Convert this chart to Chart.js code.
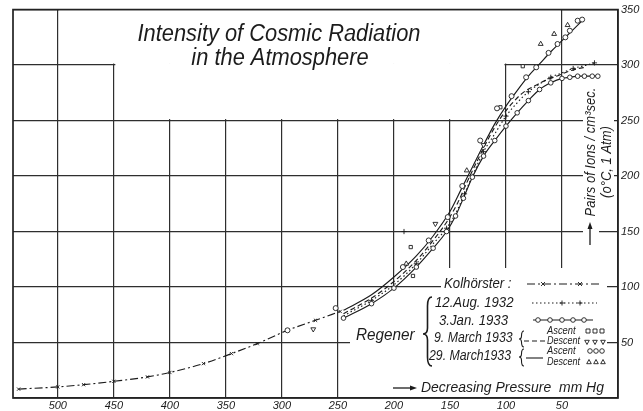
<!DOCTYPE html>
<html>
<head>
<meta charset="utf-8">
<script src="https://cdn.jsdelivr.net/npm/chart.js@4.4.0/dist/chart.umd.min.js"></script>
<style>
  html, body { margin: 0; padding: 0; background: #fff; }
  #wrap { width: 643px; height: 411px; }
</style>
</head>
<body>
<div id="wrap"><canvas id="grafico" width="643" height="411"></canvas></div>
<script>
// pressure in mm Hg (x) against pairs of ions per cm3 sec (y)
const kolX = [535, 500, 477, 450, 420, 400, 370, 345, 322, 295, 270, 248];
const kolY = [8, 10, 12, 15, 19, 23, 31, 40, 49, 61, 70, 78];

const augX = [245, 220, 200, 180, 165, 153, 145, 137, 130, 120, 110, 100, 90, 80, 70, 60, 50, 40, 28, 21];
const augY = [74, 88, 102, 121, 139, 153, 166, 184, 200, 222, 238, 254, 266, 276, 283, 289, 293, 297, 300, 302];

const janX = [245, 220, 200, 180, 165, 153, 145, 138, 130, 120, 110, 100, 90, 80, 70, 60, 50, 43, 36, 30, 23, 18];
const janY = [72, 85, 99, 118, 135, 150, 164, 180, 199, 218, 232, 245, 257, 268, 278, 284, 288, 289, 290, 290, 290, 290];

const mar9X = [245, 220, 200, 180, 165, 152, 143, 135, 125, 115, 105, 95, 85, 75, 65, 55, 45, 35, 29];
const mar9Y = [76, 90, 105, 124, 142, 160, 176, 194, 215, 235, 252, 265, 275, 281, 286, 290, 294, 297, 298];

const mar29X = [245, 220, 200, 180, 165, 150, 140, 130, 120, 110, 100, 90, 80, 70, 60, 50, 40, 31];
const mar29Y = [79, 93, 109, 128, 146, 168, 188, 208, 228, 247, 263, 277, 290, 301, 312, 322, 332, 341];

// single readings
const mar29AscX = [36, 32, 43, 47, 54, 62, 73, 82, 95, 108, 123, 139, 152, 169, 192, 252, 295];
const mar29AscY = [340, 341, 331, 325, 319, 311, 298, 289, 272, 261, 232, 191, 163, 142, 118, 81, 61];
const mar29DesX = [45, 57, 69, 135, 189];
const mar29DesY = [336, 328, 319, 205, 121];
const mar9AscX = [85, 105, 185, 183];
const mar9AscY = [299, 262, 136, 110];
const mar9DesX = [163, 120, 272];
const mar9DesY = [157, 228, 62];
const augOddX = [191];
const augOddY = [150];

const xTicks = [50, 100, 150, 200, 250, 300, 350, 400, 450, 500];
const yTicks = [50, 100, 150, 200, 250, 300, 350];

const FAM = '"Liberation Sans", Arial, sans-serif';
const INK = '#1c1c1c';

function pts(xs, ys) {
    return xs.map((v, i) => ({ x: v, y: ys[i] }));
}

// 12 Aug markers only every other point
const augRadius = augX.map((v, i) => (i % 2 === 1 ? 2.6 : 0));

// condensed italic text, like the printed lettering
function txt(ctx, s, x, y, size, squeeze) {
    ctx.save();
    ctx.font = 'italic ' + size + 'px ' + FAM;
    ctx.translate(x, y);
    ctx.scale(squeeze, 1);
    ctx.fillText(s, 0, 0);
    ctx.restore();
}

const paper = {
    id: 'paper',
    beforeDatasetsDraw(chart) {
        // the printed figure leaves the grid out behind title, legend and axis texts
        const ctx = chart.ctx;
        const sx = chart.scales.x, sy = chart.scales.y;
        const a = chart.chartArea;
        ctx.save();
        ctx.fillStyle = '#fff';
        ctx.fillRect(sx.getPixelForValue(500) + 1.5, a.top, sx.getPixelForValue(50) - sx.getPixelForValue(500) - 3, sy.getPixelForValue(300) - a.top - 1.5);
        ctx.fillRect(sx.getPixelForValue(450) + 1.5, sy.getPixelForValue(300) - 2, sx.getPixelForValue(100) - sx.getPixelForValue(450) - 3, sy.getPixelForValue(250) - sy.getPixelForValue(300) + 0.5);
        ctx.fillRect(441, 268, 166, 32);
        ctx.fillRect(350, 289, 257, 70);
        ctx.fillRect(393, 355, a.right - 393 - 1, a.bottom - 355 - 1);
        ctx.fillRect(583, 80, 31, 150);
        ctx.fillRect(583, 225, 16, 23);
        ctx.restore();
    },
    afterDraw(chart) {
        const ctx = chart.ctx;
        const a = chart.chartArea;
        ctx.save();
        // frame
        ctx.strokeStyle = '#222';
        ctx.lineWidth = 1.7;
        ctx.strokeRect(a.left, a.top, a.right - a.left, a.bottom - a.top);

        ctx.fillStyle = INK;
        ctx.strokeStyle = INK;
        ctx.textBaseline = 'alphabetic';
        ctx.textAlign = 'center';
        txt(ctx, 'Intensity of Cosmic Radiation', 279, 41, 23, 0.95);
        txt(ctx, 'in the Atmosphere', 280, 65, 23, 0.95);

        // y axis title
        ctx.save();
        ctx.translate(595, 152);
        ctx.rotate(-Math.PI / 2);
        txt(ctx, 'Pairs of Ions / cm³sec.', 0, 0, 14, 0.93);
        ctx.restore();
        ctx.save();
        ctx.translate(611, 162);
        ctx.rotate(-Math.PI / 2);
        txt(ctx, '(o°C, 1 Atm)', 0, 0, 14, 0.93);
        ctx.restore();
        arrow(ctx, 590, 245, 590, 222);

        // x axis title
        arrow(ctx, 393, 388, 417, 388);
        ctx.textAlign = 'left';
        ctx.textBaseline = 'middle';
        txt(ctx, 'Decreasing Pressure  mm Hg', 421, 388, 15, 0.93);

        // legend
        txt(ctx, 'Kolhörster :', 444, 284, 15, 0.88);
        txt(ctx, '12.Aug. 1932', 435, 303, 15, 0.88);
        txt(ctx, '3.Jan. 1933', 439, 321, 15, 0.88);
        txt(ctx, '9. March 1933', 434, 338, 15, 0.82);
        txt(ctx, '29. March1933', 429, 356, 15, 0.82);
        txt(ctx, 'Regener', 356, 335, 17, 0.9);
        brace(ctx, 423, 297, 366, 334, 9, 1.6);
        brace(ctx, 519, 331, 347, 339, 5, 1.1);
        brace(ctx, 519, 349, 366, 357, 5, 1.1);

        txt(ctx, 'Ascent', 547, 331, 11, 0.85);
        txt(ctx, 'Descent', 547, 341, 11, 0.82);
        txt(ctx, 'Ascent', 547, 351, 11, 0.85);
        txt(ctx, 'Descent', 547, 362, 11, 0.82);

        ctx.lineWidth = 1.1;
        sample(ctx, 527, 602, 284, [8, 3, 2, 3]);
        sample(ctx, 532, 597, 303, [1.5, 2.5]);
        sample(ctx, 533, 593, 320, []);
        sample(ctx, 524, 545, 341, [5, 3]);
        sample(ctx, 526, 543, 358, []);
        [543, 580].forEach(x => mark(ctx, 'x', x, 284));
        [562, 580].forEach(x => mark(ctx, '+', x, 303));
        [538, 550, 562, 573, 584].forEach(x => mark(ctx, 'o', x, 320));
        [588, 595, 602].forEach(x => mark(ctx, 's', x, 331));
        [587, 595, 603].forEach(x => mark(ctx, 'v', x, 342));
        [590, 596, 602].forEach(x => mark(ctx, 'o', x, 351));
        [589, 596, 603].forEach(x => mark(ctx, '^', x, 362));
        ctx.restore();
    }
};

function arrow(ctx, x1, y1, x2, y2) {
    const ang = Math.atan2(y2 - y1, x2 - x1);
    ctx.save();
    ctx.lineWidth = 1.3;
    ctx.beginPath();
    ctx.moveTo(x1, y1);
    ctx.lineTo(x2 - 5 * Math.cos(ang), y2 - 5 * Math.sin(ang));
    ctx.stroke();
    ctx.translate(x2, y2);
    ctx.rotate(ang);
    ctx.beginPath();
    ctx.moveTo(0, 0);
    ctx.lineTo(-7, -2.5);
    ctx.lineTo(-7, 2.5);
    ctx.closePath();
    ctx.fill();
    ctx.restore();
}

function brace(ctx, x, top, bot, mid, w, lw) {
    const c = x + w / 2;
    ctx.save();
    ctx.lineWidth = lw;
    ctx.beginPath();
    ctx.moveTo(x + w, top);
    ctx.quadraticCurveTo(c, top, c, top + w);
    ctx.lineTo(c, mid - w / 1.5);
    ctx.quadraticCurveTo(c, mid, x, mid);
    ctx.quadraticCurveTo(c, mid, c, mid + w / 1.5);
    ctx.lineTo(c, bot - w);
    ctx.quadraticCurveTo(c, bot, x + w, bot);
    ctx.stroke();
    ctx.restore();
}

function sample(ctx, x1, x2, y, dash) {
    ctx.save();
    ctx.setLineDash(dash);
    ctx.beginPath();
    ctx.moveTo(x1, y);
    ctx.lineTo(x2, y);
    ctx.stroke();
    ctx.restore();
}

function mark(ctx, kind, x, y) {
    ctx.save();
    ctx.lineWidth = 0.9;
    ctx.fillStyle = '#fff';
    ctx.beginPath();
    if (kind === 'o') {
        ctx.arc(x, y, 2.3, 0, Math.PI * 2);
        ctx.fill();
        ctx.stroke();
    } else if (kind === 's') {
        ctx.rect(x - 2, y - 2, 4, 4);
        ctx.fill();
        ctx.stroke();
    } else if (kind === '^' || kind === 'v') {
        const d = kind === '^' ? 1 : -1;
        ctx.moveTo(x, y - 2.5 * d);
        ctx.lineTo(x + 2.3, y + 1.7 * d);
        ctx.lineTo(x - 2.3, y + 1.7 * d);
        ctx.closePath();
        ctx.fill();
        ctx.stroke();
    } else if (kind === '+') {
        ctx.moveTo(x - 2.5, y); ctx.lineTo(x + 2.5, y);
        ctx.moveTo(x, y - 2.5); ctx.lineTo(x, y + 2.5);
        ctx.stroke();
    } else {
        ctx.moveTo(x - 2, y - 2); ctx.lineTo(x + 2, y + 2);
        ctx.moveTo(x + 2, y - 2); ctx.lineTo(x - 2, y + 2);
        ctx.stroke();
    }
    ctx.restore();
}

const lineBase = {
    showLine: true,
    borderColor: INK,
    borderWidth: 1.15,
    fill: false,
    tension: 0.4,
    cubicInterpolationMode: 'monotone',
    pointBackgroundColor: '#fff',
    pointBorderColor: INK,
    pointBorderWidth: 0.9
};
const dotBase = {
    showLine: false,
    borderColor: INK,
    pointBackgroundColor: '#fff',
    pointBorderColor: INK,
    pointBorderWidth: 0.9,
    pointRadius: 2.5
};

const ctx = document.getElementById('grafico').getContext('2d');
const grafico = new Chart(ctx, {
    type: 'line',
    data: {
        datasets: [
            { ...dotBase, label: '29 March ascent', data: pts(mar29AscX, mar29AscY), pointStyle: 'circle' },
            { ...dotBase, label: '29 March descent', data: pts(mar29DesX, mar29DesY), pointStyle: 'triangle', pointRadius: 2.8 },
            { ...dotBase, label: '9 March ascent', data: pts(mar9AscX, mar9AscY), pointStyle: 'rect', pointRadius: 2.3 },
            { ...dotBase, label: '9 March descent', data: pts(mar9DesX, mar9DesY), pointStyle: 'triangle', pointRotation: 180, pointRadius: 2.8 },
            { ...dotBase, label: '12 Aug single', data: pts(augOddX, augOddY), pointStyle: 'cross', pointRadius: 2.6 },
            { ...lineBase, label: '3. Jan. 1933', data: pts(janX, janY), pointStyle: 'circle', pointRadius: 2.3 },
            { ...lineBase, label: '12. Aug. 1932', data: pts(augX, augY), borderDash: [1.5, 2.5], pointStyle: 'cross', pointRadius: augRadius },
            { ...lineBase, label: '9. March 1933', data: pts(mar9X, mar9Y), borderDash: [5, 3], pointRadius: 0 },
            { ...lineBase, label: '29. March 1933', data: pts(mar29X, mar29Y), pointRadius: 0 },
            { ...lineBase, label: 'Kolhörster', data: pts(kolX, kolY), borderDash: [8, 3, 2, 3], pointStyle: 'crossRot', pointRadius: 2.3 }
        ]
    },
    options: {
        responsive: false,
        animation: false,
        devicePixelRatio: 1,
        layout: { padding: { left: 13, top: 7, right: 0, bottom: 0 } },
        plugins: {
            legend: { display: false },
            tooltip: { enabled: false }
        },
        scales: {
            x: {
                type: 'linear',
                reverse: true,
                min: 0,
                max: 540,
                afterBuildTicks: s => { s.ticks = [0].concat(xTicks).map(v => ({ value: v })); },
                afterFit: s => { s.height = 13; },
                ticks: {
                    callback: v => (v === 0 ? '' : v),
                    font: { family: FAM, size: 11, style: 'italic' },
                    color: INK,
                    padding: 1,
                    maxRotation: 0,
                    autoSkip: false
                },
                grid: { color: '#2e2e2e', lineWidth: 1.2, drawTicks: false },
                border: { display: false }
            },
            y: {
                position: 'right',
                min: 0,
                max: 350,
                afterBuildTicks: s => { s.ticks = [0].concat(yTicks).map(v => ({ value: v })); },
                afterFit: s => { s.width = 25; },
                ticks: {
                    callback: v => (v === 0 ? '' : v),
                    font: { family: FAM, size: 11, style: 'italic' },
                    color: INK,
                    padding: 3,
                    autoSkip: false
                },
                grid: { color: '#2e2e2e', lineWidth: 1.2, drawTicks: false },
                border: { display: false }
            }
        }
    },
    plugins: [paper]
});
</script>
</body>
</html>
